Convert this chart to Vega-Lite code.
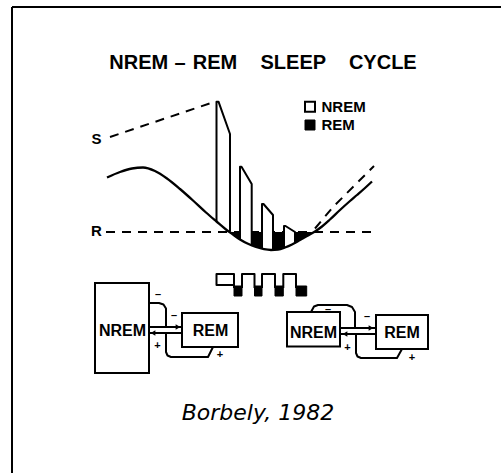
{
  "$schema": "https://vega.github.io/schema/vega-lite/v6.json",
  "width": 501,
  "height": 473,
  "autosize": {"type": "none"},
  "padding": 0,
  "background": "white",
  "config": {"view": {"stroke": null, "strokeWidth": 0}},
  "datasets": {
    "frame": [
      {"x": 12, "x2": 12, "y": 7, "y2": 473},
      {"x": 12, "x2": 501, "y": 7, "y2": 7}
    ],
    "dashed": [
      {"g": "S", "o": 1, "x": 110, "y": 137},
      {"g": "S", "o": 2, "x": 214, "y": 102},
      {"g": "R", "o": 1, "x": 106, "y": 232},
      {"g": "R", "o": 2, "x": 374, "y": 232},
      {"g": "S2", "o": 1, "x": 315, "y": 228.5},
      {"g": "S2", "o": 2, "x": 333, "y": 207},
      {"g": "S2", "o": 3, "x": 374, "y": 166}
    ],
    "nremfill": [
      {"g": "b1", "x": 216.5, "y": 101.7, "y2": 221.5},
      {"g": "b1", "x": 218.5, "y": 101.7, "y2": 223},
      {"g": "b1", "x": 224, "y": 117, "y2": 227.5},
      {"g": "b1", "x": 230, "y": 134, "y2": 231.7},
      {"g": "b2", "x": 240, "y": 166.7, "y2": 239.5},
      {"g": "b2", "x": 241.5, "y": 166.7, "y2": 240.3},
      {"g": "b2", "x": 251.7, "y": 184, "y2": 245},
      {"g": "b3", "x": 262, "y": 204, "y2": 248.7},
      {"g": "b3", "x": 263.5, "y": 204, "y2": 249},
      {"g": "b3", "x": 273, "y": 215, "y2": 250},
      {"g": "b4", "x": 284, "y": 226, "y2": 247.8},
      {"g": "b4", "x": 285.5, "y": 226, "y2": 247.4},
      {"g": "b4", "x": 295, "y": 232, "y2": 243.3}
    ],
    "remfill": [
      {"g": "r1", "x": 230, "y": 231.7, "y2": 231.7},
      {"g": "r1", "x": 233, "y": 232, "y2": 234.5},
      {"g": "r1", "x": 236.5, "y": 232, "y2": 237},
      {"g": "r1", "x": 240, "y": 232, "y2": 239.5},
      {"g": "r2", "x": 251.7, "y": 232, "y2": 245},
      {"g": "r2", "x": 256, "y": 232, "y2": 247},
      {"g": "r2", "x": 262, "y": 232, "y2": 248.7},
      {"g": "r3", "x": 273, "y": 232, "y2": 250},
      {"g": "r3", "x": 278, "y": 232, "y2": 249.6},
      {"g": "r3", "x": 284, "y": 232, "y2": 247.8},
      {"g": "r4", "x": 295, "y": 232, "y2": 243.3},
      {"g": "r4", "x": 300, "y": 232, "y2": 240},
      {"g": "r4", "x": 307, "y": 232, "y2": 236},
      {"g": "r4", "x": 312, "y": 232, "y2": 232.5}
    ],
    "curve": [
      {"o": 1, "x": 107, "y": 177.5},
      {"o": 2, "x": 120, "y": 172},
      {"o": 3, "x": 132, "y": 168.5},
      {"o": 4, "x": 143, "y": 167.5},
      {"o": 5, "x": 155, "y": 171},
      {"o": 6, "x": 167, "y": 178.5},
      {"o": 7, "x": 180, "y": 189},
      {"o": 8, "x": 193, "y": 200.5},
      {"o": 9, "x": 206, "y": 212.5},
      {"o": 10, "x": 216.5, "y": 221.5},
      {"o": 11, "x": 226, "y": 229.5},
      {"o": 12, "x": 233, "y": 234.5},
      {"o": 13, "x": 240, "y": 239.5},
      {"o": 14, "x": 248, "y": 243.8},
      {"o": 15, "x": 256, "y": 247},
      {"o": 16, "x": 264, "y": 249.2},
      {"o": 17, "x": 271, "y": 250},
      {"o": 18, "x": 278, "y": 249.6},
      {"o": 19, "x": 285, "y": 247.5},
      {"o": 20, "x": 292, "y": 244.5},
      {"o": 21, "x": 300, "y": 240},
      {"o": 22, "x": 307, "y": 236},
      {"o": 23, "x": 315, "y": 231.5},
      {"o": 24, "x": 322, "y": 226.5},
      {"o": 25, "x": 330, "y": 219.5},
      {"o": 26, "x": 340, "y": 210},
      {"o": 27, "x": 350, "y": 201},
      {"o": 28, "x": 357, "y": 195},
      {"o": 29, "x": 365, "y": 188},
      {"o": 30, "x": 372, "y": 181.5}
    ],
    "solid": [
      {"g": "b1", "o": 1, "x": 216.5, "y": 221.5},
      {"g": "b1", "o": 2, "x": 216.5, "y": 101.7},
      {"g": "b1", "o": 3, "x": 218.5, "y": 101.7},
      {"g": "b1", "o": 4, "x": 230, "y": 134},
      {"g": "b1", "o": 5, "x": 230, "y": 231.7},
      {"g": "b2", "o": 1, "x": 240, "y": 239.5},
      {"g": "b2", "o": 2, "x": 240, "y": 166.7},
      {"g": "b2", "o": 3, "x": 241.5, "y": 166.7},
      {"g": "b2", "o": 4, "x": 251.7, "y": 184},
      {"g": "b2", "o": 5, "x": 251.7, "y": 245},
      {"g": "b3", "o": 1, "x": 262, "y": 248.7},
      {"g": "b3", "o": 2, "x": 262, "y": 204},
      {"g": "b3", "o": 3, "x": 263.5, "y": 204},
      {"g": "b3", "o": 4, "x": 273, "y": 215},
      {"g": "b3", "o": 5, "x": 273, "y": 250},
      {"g": "b4", "o": 1, "x": 284, "y": 247.8},
      {"g": "b4", "o": 2, "x": 284, "y": 226},
      {"g": "b4", "o": 3, "x": 285.5, "y": 226},
      {"g": "b4", "o": 4, "x": 295, "y": 232},
      {"g": "b4", "o": 5, "x": 295, "y": 243.3},
      {"g": "h1", "o": 1, "x": 234, "y": 288},
      {"g": "h1", "o": 2, "x": 234, "y": 274},
      {"g": "h1", "o": 3, "x": 216.5, "y": 274},
      {"g": "h1", "o": 4, "x": 216.5, "y": 285},
      {"g": "h1", "o": 5, "x": 234, "y": 285},
      {"g": "h2", "o": 1, "x": 242, "y": 288},
      {"g": "h2", "o": 2, "x": 242, "y": 274},
      {"g": "h2", "o": 3, "x": 254.5, "y": 274},
      {"g": "h2", "o": 4, "x": 254.5, "y": 288},
      {"g": "h3", "o": 1, "x": 262, "y": 288},
      {"g": "h3", "o": 2, "x": 262, "y": 274},
      {"g": "h3", "o": 3, "x": 275, "y": 274},
      {"g": "h3", "o": 4, "x": 275, "y": 288},
      {"g": "h4", "o": 1, "x": 283.3, "y": 288},
      {"g": "h4", "o": 2, "x": 283.3, "y": 274},
      {"g": "h4", "o": 3, "x": 296, "y": 274},
      {"g": "h4", "o": 4, "x": 296, "y": 288},
      {"g": "la1", "o": 1, "x": 149, "y": 327},
      {"g": "la1", "o": 2, "x": 182, "y": 327},
      {"g": "la2", "o": 1, "x": 149, "y": 333},
      {"g": "la2", "o": 2, "x": 182, "y": 333},
      {"g": "lt", "o": 1, "x": 149, "y": 303},
      {"g": "lt", "o": 2, "x": 159, "y": 303},
      {"g": "lt", "o": 3, "x": 163.5, "y": 304.5},
      {"g": "lt", "o": 4, "x": 166, "y": 308.5},
      {"g": "lt", "o": 5, "x": 166, "y": 327},
      {"g": "lb", "o": 1, "x": 166, "y": 333},
      {"g": "lb", "o": 2, "x": 166, "y": 352},
      {"g": "lb", "o": 3, "x": 167.5, "y": 355.5},
      {"g": "lb", "o": 4, "x": 171, "y": 357},
      {"g": "lb", "o": 5, "x": 208, "y": 357},
      {"g": "lb", "o": 6, "x": 213, "y": 347},
      {"g": "ra1", "o": 1, "x": 340, "y": 328},
      {"g": "ra1", "o": 2, "x": 376, "y": 328},
      {"g": "ra2", "o": 1, "x": 340, "y": 334},
      {"g": "ra2", "o": 2, "x": 376, "y": 334},
      {"g": "rt", "o": 1, "x": 311, "y": 312},
      {"g": "rt", "o": 2, "x": 314, "y": 306.5},
      {"g": "rt", "o": 3, "x": 318, "y": 305},
      {"g": "rt", "o": 4, "x": 347, "y": 305},
      {"g": "rt", "o": 5, "x": 352, "y": 307},
      {"g": "rt", "o": 6, "x": 355, "y": 312},
      {"g": "rt", "o": 7, "x": 355, "y": 328},
      {"g": "rb", "o": 1, "x": 356, "y": 334},
      {"g": "rb", "o": 2, "x": 356, "y": 353},
      {"g": "rb", "o": 3, "x": 357.5, "y": 356.5},
      {"g": "rb", "o": 4, "x": 361, "y": 358},
      {"g": "rb", "o": 5, "x": 397, "y": 358},
      {"g": "rb", "o": 6, "x": 402, "y": 349}
    ],
    "boxes": [
      {"x": 95, "x2": 149, "y": 283, "y2": 373},
      {"x": 182, "x2": 238, "y": 313, "y2": 347},
      {"x": 287, "x2": 340, "y": 312, "y2": 346.5},
      {"x": 376, "x2": 428, "y": 315, "y2": 349},
      {"x": 305, "x2": 315, "y": 101.7, "y2": 111.7}
    ],
    "blackrects": [
      {"x": 305, "x2": 315, "y": 120, "y2": 130},
      {"x": 234, "x2": 242, "y": 286, "y2": 296},
      {"x": 254.5, "x2": 262, "y": 286, "y2": 296},
      {"x": 275, "x2": 283.3, "y": 286, "y2": 296},
      {"x": 296, "x2": 306.7, "y": 286, "y2": 296}
    ],
    "headsRight": [
      {"x": 178, "y": 327},
      {"x": 371, "y": 328}
    ],
    "headsLeft": [
      {"x": 153, "y": 333},
      {"x": 345, "y": 334}
    ],
    "title": [
      {"x": 138.8, "y": 69.3, "t": "NREM"},
      {"x": 180, "y": 69.3, "t": "–"},
      {"x": 215, "y": 69.3, "t": "REM"},
      {"x": 293.3, "y": 69.3, "t": "SLEEP"},
      {"x": 382.8, "y": 69.3, "t": "CYCLE"}
    ],
    "axisLabels": [
      {"x": 96.5, "y": 144, "t": "S"},
      {"x": 96.5, "y": 236, "t": "R"}
    ],
    "legendText": [
      {"x": 321.5, "y": 111.7, "t": "NREM"},
      {"x": 321.5, "y": 130, "t": "REM"}
    ],
    "boxText": [
      {"x": 122.5, "y": 336, "t": "NREM"},
      {"x": 210.5, "y": 335.5, "t": "REM"},
      {"x": 313.5, "y": 337.5, "t": "NREM"},
      {"x": 402, "y": 338, "t": "REM"}
    ],
    "signs": [
      {"x": 158, "y": 294.5, "t": "–"},
      {"x": 174, "y": 315.5, "t": "–"},
      {"x": 328, "y": 310, "t": "–"},
      {"x": 367, "y": 317, "t": "–"},
      {"x": 157.5, "y": 346, "t": "+"},
      {"x": 220, "y": 355, "t": "+"},
      {"x": 347.5, "y": 348.3, "t": "+"},
      {"x": 412, "y": 358.3, "t": "+"}
    ],
    "cite": [
      {"x": 258, "y": 420, "t": "Borbely, 1982"}
    ]
  },
  "encoding": {
    "x": {"field": "x", "type": "quantitative", "scale": {"domain": [0, 501], "nice": false, "zero": false}, "axis": null},
    "y": {"field": "y", "type": "quantitative", "scale": {"domain": [0, 473], "nice": false, "zero": false, "reverse": true}, "axis": null, "stack": null}
  },
  "layer": [
    {
      "data": {"name": "frame"},
      "mark": {"type": "rule", "color": "black", "strokeWidth": 2},
      "encoding": {"x2": {"field": "x2"}, "y2": {"field": "y2"}}
    },
    {
      "data": {"name": "dashed"},
      "mark": {"type": "line", "color": "black", "strokeWidth": 2, "strokeDash": [9, 7]},
      "encoding": {"detail": {"field": "g"}, "order": {"field": "o", "type": "quantitative"}}
    },
    {
      "data": {"name": "nremfill"},
      "mark": {"type": "area", "orient": "vertical", "color": "white", "opacity": 1},
      "encoding": {"y2": {"field": "y2"}, "detail": {"field": "g"}}
    },
    {
      "data": {"name": "remfill"},
      "mark": {"type": "area", "orient": "vertical", "color": "black", "opacity": 1},
      "encoding": {"y2": {"field": "y2"}, "detail": {"field": "g"}}
    },
    {
      "data": {"name": "curve"},
      "mark": {"type": "line", "color": "black", "strokeWidth": 2.3, "interpolate": "monotone"},
      "encoding": {"order": {"field": "o", "type": "quantitative"}}
    },
    {
      "data": {"name": "solid"},
      "mark": {"type": "line", "color": "black", "strokeWidth": 2, "strokeJoin": "round"},
      "encoding": {"detail": {"field": "g"}, "order": {"field": "o", "type": "quantitative"}}
    },
    {
      "data": {"name": "boxes"},
      "mark": {"type": "rect", "fill": "white", "stroke": "black", "strokeWidth": 2},
      "encoding": {"x2": {"field": "x2"}, "y2": {"field": "y2"}}
    },
    {
      "data": {"name": "blackrects"},
      "mark": {"type": "rect", "fill": "black", "stroke": "black", "strokeWidth": 1},
      "encoding": {"x2": {"field": "x2"}, "y2": {"field": "y2"}}
    },
    {
      "data": {"name": "headsRight"},
      "mark": {"type": "point", "shape": "triangle-right", "filled": true, "color": "black", "size": 30, "opacity": 1}
    },
    {
      "data": {"name": "headsLeft"},
      "mark": {"type": "point", "shape": "triangle-left", "filled": true, "color": "black", "size": 30, "opacity": 1}
    },
    {
      "data": {"name": "title"},
      "mark": {"type": "text", "font": "Liberation Sans", "fontSize": 20, "fontWeight": "bold", "align": "center", "baseline": "alphabetic", "color": "black"},
      "encoding": {"text": {"field": "t"}}
    },
    {
      "data": {"name": "axisLabels"},
      "mark": {"type": "text", "font": "Liberation Sans", "fontSize": 15, "fontWeight": "bold", "align": "center", "baseline": "alphabetic", "color": "black"},
      "encoding": {"text": {"field": "t"}}
    },
    {
      "data": {"name": "legendText"},
      "mark": {"type": "text", "font": "Liberation Sans", "fontSize": 15, "fontWeight": "bold", "align": "left", "baseline": "alphabetic", "color": "black"},
      "encoding": {"text": {"field": "t"}}
    },
    {
      "data": {"name": "boxText"},
      "mark": {"type": "text", "font": "Liberation Sans", "fontSize": 16, "fontWeight": "bold", "align": "center", "baseline": "alphabetic", "color": "black"},
      "encoding": {"text": {"field": "t"}}
    },
    {
      "data": {"name": "signs"},
      "mark": {"type": "text", "font": "Liberation Sans", "fontSize": 11, "fontWeight": "bold", "align": "center", "baseline": "middle", "color": "black"},
      "encoding": {"text": {"field": "t"}}
    },
    {
      "data": {"name": "cite"},
      "mark": {"type": "text", "font": "DejaVu Sans", "fontSize": 22, "fontStyle": "italic", "align": "center", "baseline": "alphabetic", "color": "black"},
      "encoding": {"text": {"field": "t"}}
    }
  ]
}
